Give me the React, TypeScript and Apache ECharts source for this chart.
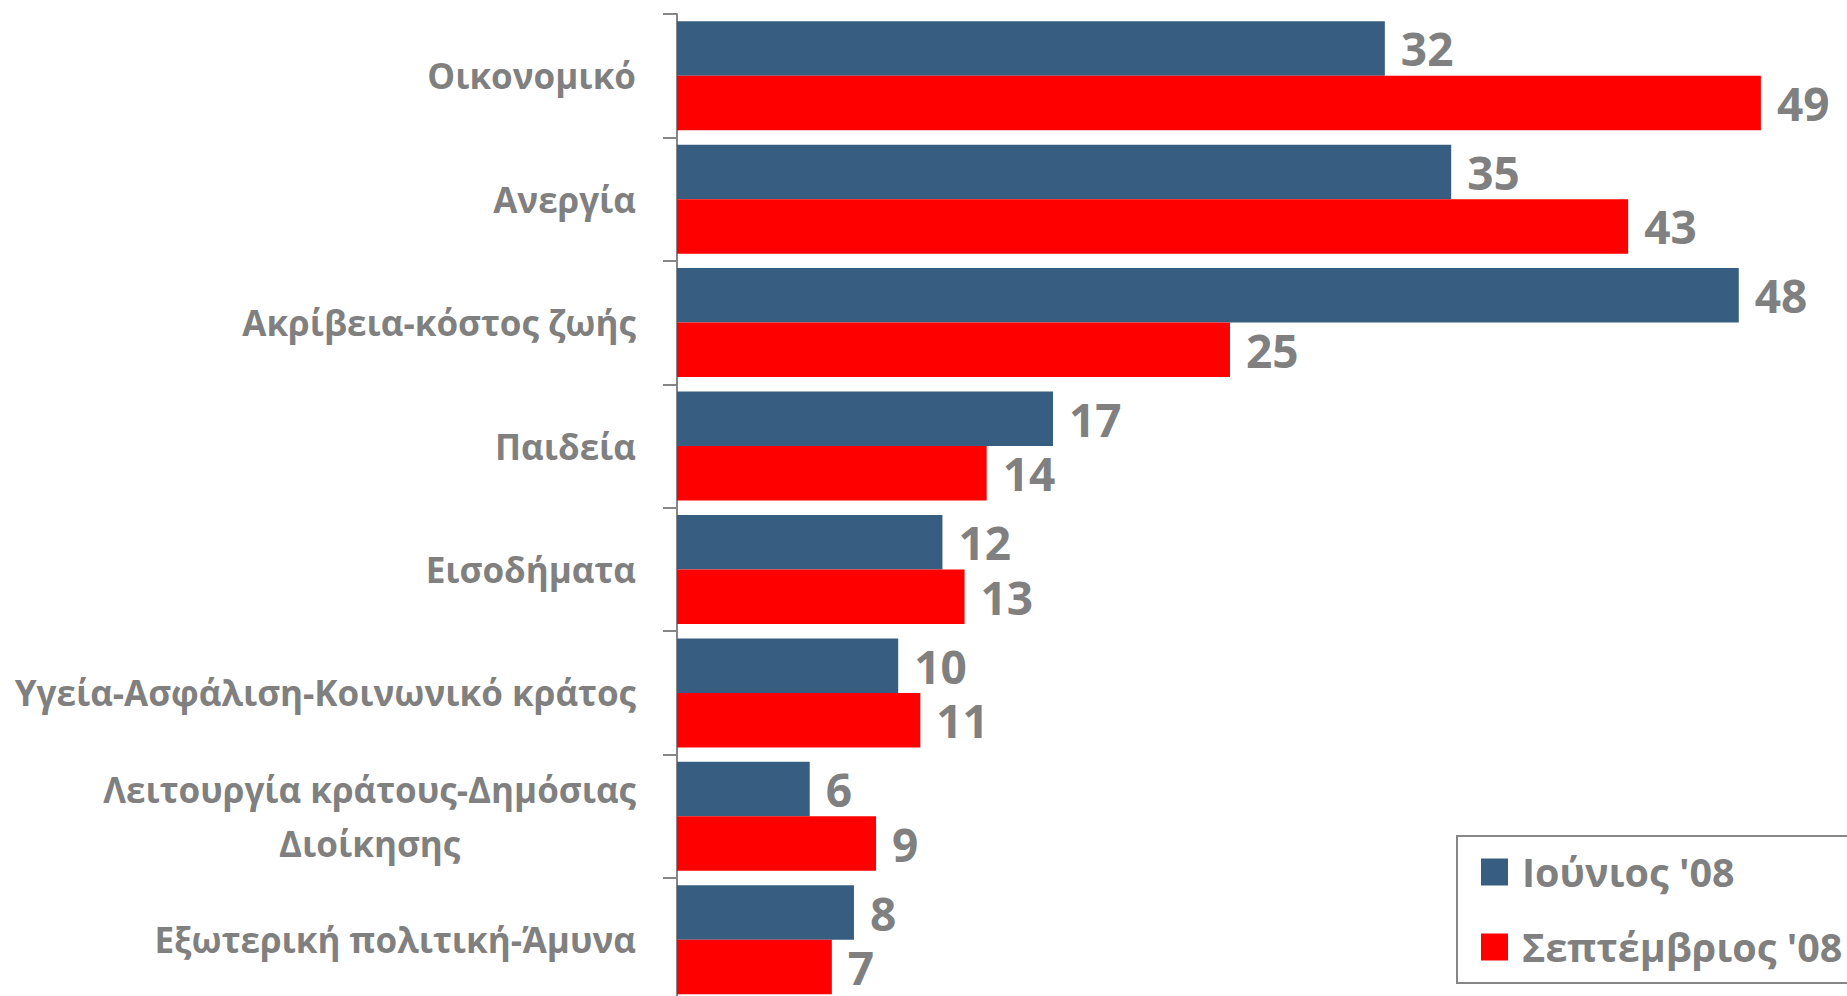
import React, { useEffect, useRef } from "react";
import * as echarts from "echarts";

const categories = [
  "Οικονομικό",
  "Ανεργία",
  "Ακρίβεια-κόστος ζωής",
  "Παιδεία",
  "Εισοδήματα",
  "Υγεία-Ασφάλιση-Κοινωνικό κράτος",
  "Λειτουργία κράτους-Δημόσιας Διοίκησης",
  "Εξωτερική πολιτική-Άμυνα",
];
const june08 = [32, 35, 48, 17, 12, 10, 6, 8];
const sept08 = [49, 43, 25, 14, 13, 11, 9, 7];
const seriesNames = ["Ιούνιος '08", "Σεπτέμβριος '08"];

const FONT = "'Open Sans', 'Noto Sans', sans-serif";
const GREY = "#808080";
const AXIS_GREY = "#868686";

export default function App() {
  const ref = useRef<HTMLDivElement>(null);
  useEffect(() => {
    document.body.style.margin = "0";
    document.body.style.overflow = "hidden";
    if (!ref.current) return;
    const chart = echarts.init(ref.current, null, { renderer: "svg" });
    const labelStyle = {
      show: true,
      position: "right",
      distance: 16,
      color: GREY,
      fontFamily: FONT,
      fontWeight: "bold",
      fontSize: 46,
      lineHeight: 44,
    };
    chart.setOption({
      animation: false,
      backgroundColor: "#ffffff",
      grid: { left: 677, top: 14, width: 1106, height: 987.5, containLabel: false },
      legend: {
        orient: "vertical",
        left: 1457,
        top: 836,
        padding: [12, 24, 12, 24],
        itemWidth: 27,
        itemHeight: 27,
        itemGap: 27,
        icon: "rect",
        borderColor: AXIS_GREY,
        borderWidth: 2,
        textStyle: {
          color: GREY,
          fontFamily: FONT,
          fontWeight: "bold",
          fontSize: 39.5,
          lineHeight: 48,
          padding: [0, 0, 0, 9],
        },
        data: seriesNames,
      },
      xAxis: {
        type: "value",
        min: 0,
        max: 50,
        show: false,
        splitLine: { show: false },
      },
      yAxis: {
        type: "category",
        inverse: true,
        data: categories,
        axisLine: { show: true, lineStyle: { color: AXIS_GREY, width: 2 } },
        axisTick: { show: true, length: 14, lineStyle: { color: AXIS_GREY, width: 2 } },
        axisLabel: {
          margin: 41,
          color: GREY,
          fontFamily: FONT,
          fontWeight: "bold",
          fontSize: 35,
          formatter: (v: string) => {
            if (v.startsWith("Λειτουργία")) {
              return "{c|Λειτουργία κράτους-Δημόσιας}\n{c|Διοίκησης}";
            }
            return v;
          },
          rich: {
            c: {
              align: "center",
              color: GREY,
              fontFamily: FONT,
              fontWeight: "bold",
              fontSize: 35,
              lineHeight: 54,
            },
          },
        },
      },
      series: [
        {
          name: seriesNames[0],
          type: "bar",
          data: june08,
          itemStyle: { color: "#375E80" },
          barGap: "0%",
          barCategoryGap: "11.7%",
          label: labelStyle,
        },
        {
          name: seriesNames[1],
          type: "bar",
          data: sept08,
          itemStyle: { color: "#FF0000" },
          barGap: "0%",
          barCategoryGap: "11.7%",
          label: labelStyle,
        },
      ],
    });
    return () => chart.dispose();
  }, []);
  return (
    <div style={{ width: 1847, height: 996, overflow: "hidden", position: "relative" }}>
      <div ref={ref} style={{ width: 1847, height: 1010 }} />
    </div>
  );
}
